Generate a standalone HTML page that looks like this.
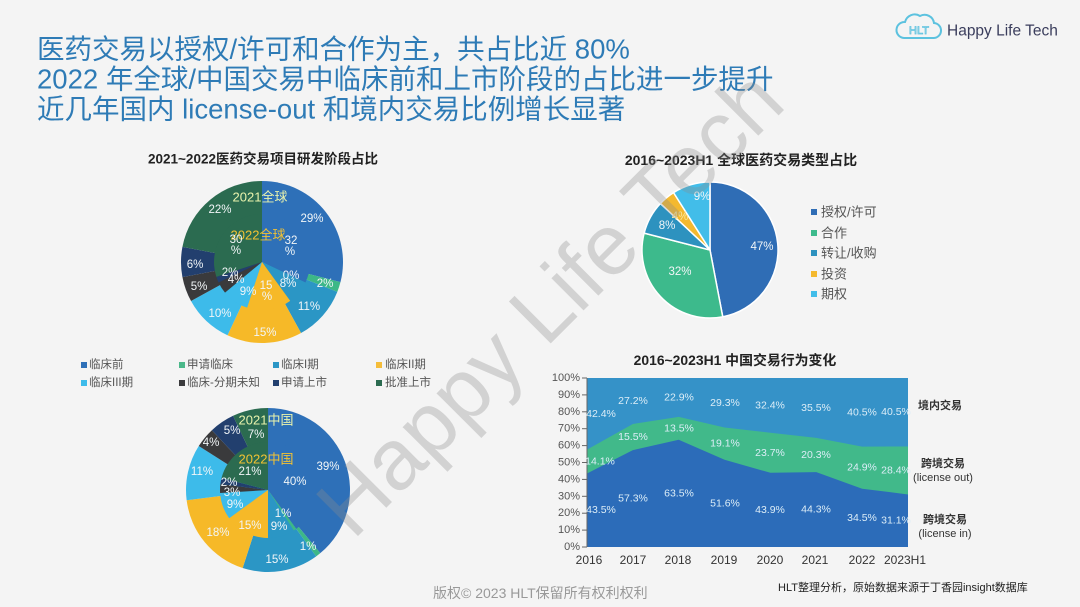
<!DOCTYPE html>
<html>
<head>
<meta charset="utf-8">
<style>
html,body{margin:0;padding:0;background:#f4f4f4;}
svg{display:block;}
</style>
</head>
<body>
<svg width="1080" height="607" viewBox="0 0 1080 607" xmlns="http://www.w3.org/2000/svg" font-family='"Liberation Sans","Noto Sans CJK SC",sans-serif'>
<rect width="1080" height="607" fill="#f4f4f4"/>

<!-- Title -->
<g fill="#2e7bb6" font-size="27.5">
<text x="37" y="49" dominant-baseline="central">医药交易以授权/许可和合作为主，共占比近 80%</text>
<text x="37" y="79" dominant-baseline="central">2022 年全球/中国交易中临床前和上市阶段的占比进一步提升</text>
<text x="37" y="109" dominant-baseline="central">近几年国内 license-out 和境内交易比例增长显著</text>
</g>

<!-- Logo -->
<g fill="none" stroke="#5cc2df" stroke-width="2">
<path d="M904,38 H933 A7.5,7.5 0 0 0 934,23 A9.5,9.5 0 0 0 920,16 A10,10 0 0 0 905,22 A8,8 0 0 0 904,38 Z"/>
</g>
<text x="919" y="31" text-anchor="middle" dominant-baseline="central" font-size="11" fill="none" stroke="#5cc2df" stroke-width="0.8">HLT</text>
<text x="947" y="31" dominant-baseline="central" font-size="15.5" fill="#3a3d5c">Happy Life Tech</text>

<!-- Chart titles -->
<g font-weight="bold" fill="#222">
<text x="263" y="159" text-anchor="middle" dominant-baseline="central" font-size="13.5">2021~2022医药交易项目研发阶段占比</text>
<text x="741" y="160" text-anchor="middle" dominant-baseline="central" font-size="14">2016~2023H1 全球医药交易类型占比</text>
<text x="735" y="360" text-anchor="middle" dominant-baseline="central" font-size="13.9">2016~2023H1 中国交易行为变化</text>
</g>

<!-- Pie 1 (global) outer 2021 -->
<g>
<path d="M262,262 L262,181 A81,81 0 0 1 340.46,282.14 Z" fill="#2e70b8"/>
<path d="M262,262 L340.46,282.14 A81,81 0 0 1 337.31,291.82 Z" fill="#3db887"/>
<path d="M262,262 L337.31,291.82 A81,81 0 0 1 301.02,332.98 Z" fill="#2b96c5"/>
<path d="M262,262 L301.02,332.98 A81,81 0 0 1 227.51,335.29 Z" fill="#f6b928"/>
<path d="M262,262 L227.51,335.29 A81,81 0 0 1 191.02,301.02 Z" fill="#3dbbea"/>
<path d="M262,262 L191.02,301.02 A81,81 0 0 1 182.43,277.18 Z" fill="#3a3a3c"/>
<path d="M262,262 L182.43,277.18 A81,81 0 0 1 182.43,246.82 Z" fill="#223f6e"/>
<path d="M262,262 L182.43,246.82 A81,81 0 0 1 262,181 Z" fill="#2b6b50"/>
<!-- inner 2022 -->
<path d="M262,262 L262,214 A48,48 0 0 1 305.43,282.44 Z" fill="#2e70b8"/>
<path d="M262,262 L305.43,282.44 A48,48 0 0 1 290.21,300.83 Z" fill="#2b96c5"/>
<path d="M262,262 L290.21,300.83 A48,48 0 0 1 247.17,307.65 Z" fill="#f6b928"/>
<path d="M262,262 L247.17,307.65 A48,48 0 0 1 225.02,292.60 Z" fill="#3dbbea"/>
<path d="M262,262 L225.02,292.60 A48,48 0 0 1 218.57,282.44 Z" fill="#3a3a3c"/>
<path d="M262,262 L218.57,282.44 A48,48 0 0 1 216.35,276.83 Z" fill="#223f6e"/>
<path d="M262,262 L216.35,276.83 A48,48 0 0 1 262,214 Z" fill="#2b6b50"/>
</g>
<g font-size="11.5" fill="#f2f6f8" text-anchor="middle" dominant-baseline="central">
<text x="260" y="197" font-size="13" fill="#e9f3ad">2021全球</text>
<text x="258" y="235" font-size="13" fill="#f2c233">2022全球</text>
<text x="220" y="210">22%</text>
<text x="312" y="219">29%</text>
<text x="236" y="240">30</text>
<text x="236" y="251">%</text>
<text x="291" y="241">32</text>
<text x="290" y="252">%</text>
<text x="195" y="265">6%</text>
<text x="230" y="273">2%</text>
<text x="236" y="280">4%</text>
<text x="199" y="287">5%</text>
<text x="291" y="276">0%</text>
<text x="288" y="284">8%</text>
<text x="325" y="284">2%</text>
<text x="266" y="286">15</text>
<text x="267" y="297">%</text>
<text x="248" y="292">9%</text>
<text x="309" y="307">11%</text>
<text x="220" y="314">10%</text>
<text x="265" y="333">15%</text>
</g>

<!-- Legend for pies -->
<g font-size="11.5" fill="#555" dominant-baseline="central">
<rect x="81" y="362" width="6" height="6" fill="#2e70b8"/><text x="89" y="365">临床前</text>
<rect x="179" y="362" width="6" height="6" fill="#4bb88a"/><text x="187" y="365">申请临床</text>
<rect x="273" y="362" width="6" height="6" fill="#2b96c5"/><text x="281" y="365">临床I期</text>
<rect x="376" y="362" width="6" height="6" fill="#f5bd3a"/><text x="385" y="365">临床II期</text>
<rect x="81" y="380" width="6" height="6" fill="#3dbbea"/><text x="89" y="383">临床III期</text>
<rect x="179" y="380" width="6" height="6" fill="#3a3a3c"/><text x="187" y="383">临床-分期未知</text>
<rect x="273" y="380" width="6" height="6" fill="#223f6e"/><text x="281" y="383">申请上市</text>
<rect x="376" y="380" width="6" height="6" fill="#2b6b50"/><text x="385" y="383">批准上市</text>
</g>

<!-- Pie 2 (China) outer 2021 -->
<g>
<path d="M268,490 L268,408 A82,82 0 0 1 320.27,553.18 Z" fill="#2e70b8"/>
<path d="M268,490 L320.27,553.18 A82,82 0 0 1 316.20,556.34 Z" fill="#3db887"/>
<path d="M268,490 L316.20,556.34 A82,82 0 0 1 242.66,567.99 Z" fill="#2b96c5"/>
<path d="M268,490 L242.66,567.99 A82,82 0 0 1 186.65,500.28 Z" fill="#f6b928"/>
<path d="M268,490 L186.65,500.28 A82,82 0 0 1 198.76,446.06 Z" fill="#3dbbea"/>
<path d="M268,490 L198.76,446.06 A82,82 0 0 1 211.87,430.22 Z" fill="#3a3a3c"/>
<path d="M268,490 L211.87,430.22 A82,82 0 0 1 233.09,415.80 Z" fill="#223f6e"/>
<path d="M268,490 L233.09,415.80 A82,82 0 0 1 268,408 Z" fill="#2b6b50"/>
<!-- inner 2022 -->
<path d="M268,490 L268,442 A48,48 0 0 1 296.21,528.83 Z" fill="#2e70b8"/>
<path d="M268,490 L296.21,528.83 A48,48 0 0 1 293.72,530.53 Z" fill="#3db887"/>
<path d="M268,490 L293.72,530.53 A48,48 0 0 1 268,538 Z" fill="#2b96c5"/>
<path d="M268,490 L268,538 A48,48 0 0 1 229.17,518.21 Z" fill="#f6b928"/>
<path d="M268,490 L229.17,518.21 A48,48 0 0 1 220.09,493.01 Z" fill="#3dbbea"/>
<path d="M268,490 L220.09,493.01 A48,48 0 0 1 220.38,483.98 Z" fill="#3a3a3c"/>
<path d="M268,490 L220.38,483.98 A48,48 0 0 1 221.51,478.06 Z" fill="#223f6e"/>
<path d="M268,490 L221.51,478.06 A48,48 0 0 1 268,442 Z" fill="#2b6b50"/>
</g>
<g font-size="11.5" fill="#f2f6f8" text-anchor="middle" dominant-baseline="central">
<text x="266" y="420" font-size="13" fill="#e9f3ad">2021中国</text>
<text x="266" y="459" font-size="13" fill="#f2c233">2022中国</text>
<text x="232" y="431">5%</text>
<text x="256" y="435">7%</text>
<text x="211" y="443">4%</text>
<text x="202" y="472">11%</text>
<text x="250" y="472">21%</text>
<text x="328" y="467">39%</text>
<text x="295" y="482">40%</text>
<text x="229" y="483">2%</text>
<text x="232" y="493">3%</text>
<text x="235" y="505">9%</text>
<text x="283" y="514">1%</text>
<text x="279" y="527">9%</text>
<text x="250" y="526">15%</text>
<text x="218" y="533">18%</text>
<text x="308" y="547">1%</text>
<text x="277" y="560">15%</text>
</g>

<!-- Pie 3 -->
<g stroke="#fff" stroke-width="1.5" stroke-linejoin="round">
<path d="M710,250 L710,182 A68,68 0 0 1 722.74,316.80 Z" fill="#2f6db5"/>
<path d="M710,250 L722.74,316.80 A68,68 0 0 1 644.14,233.09 Z" fill="#3dba8c"/>
<path d="M710,250 L644.14,233.09 A68,68 0 0 1 660.43,203.45 Z" fill="#2d92bf"/>
<path d="M710,250 L660.43,203.45 A68,68 0 0 1 673.56,192.59 Z" fill="#f4b92f"/>
<path d="M710,250 L673.56,192.59 A68,68 0 0 1 710,182 Z" fill="#42bde9"/>
</g>
<g font-size="11.5" fill="#f2f6f8" text-anchor="middle" dominant-baseline="central">
<text x="762" y="247">47%</text>
<text x="680" y="272">32%</text>
<text x="667" y="226">8%</text>
<text x="680" y="217" fill="#f8e6a0">4%</text>
<text x="702" y="197">9%</text>
</g>
<g font-size="13" fill="#555" dominant-baseline="central">
<rect x="811" y="209" width="6" height="6" fill="#2f6db5"/><text x="821" y="212">授权/许可</text>
<rect x="811" y="230" width="6" height="6" fill="#3dba8c"/><text x="821" y="233">合作</text>
<rect x="811" y="250" width="6" height="6" fill="#2d92bf"/><text x="821" y="253">转让/收购</text>
<rect x="811" y="271" width="6" height="6" fill="#f4b92f"/><text x="821" y="274">投资</text>
<rect x="811" y="291" width="6" height="6" fill="#42bde9"/><text x="821" y="294">期权</text>
</g>

<!-- Area chart -->
<rect x="587" y="378" width="321" height="169" fill="#3592c8"/>
<polygon points="587,547 587,449.66 632.86,423.97 678.71,416.87 724.57,427.52 770.43,432.76 816.29,437.83 862.14,446.61 908,446.44 908,547" fill="#41b98a"/>
<polygon points="587,547 587,473.49 632.86,450.16 678.71,439.69 724.57,459.80 770.43,472.81 816.29,472.13 862.14,488.70 908,494.44 908,547" fill="#2c6cb9"/>
<g stroke="#666" stroke-width="1">
<line x1="587" y1="378" x2="587" y2="547"/>
<line x1="582" y1="378" x2="587" y2="378"/>
<line x1="582" y1="394.9" x2="587" y2="394.9"/>
<line x1="582" y1="411.8" x2="587" y2="411.8"/>
<line x1="582" y1="428.7" x2="587" y2="428.7"/>
<line x1="582" y1="445.6" x2="587" y2="445.6"/>
<line x1="582" y1="462.5" x2="587" y2="462.5"/>
<line x1="582" y1="479.4" x2="587" y2="479.4"/>
<line x1="582" y1="496.3" x2="587" y2="496.3"/>
<line x1="582" y1="513.2" x2="587" y2="513.2"/>
<line x1="582" y1="530.1" x2="587" y2="530.1"/>
<line x1="582" y1="547" x2="587" y2="547"/>
</g>
<g font-size="11" fill="#555" text-anchor="end" dominant-baseline="central">
<text x="580" y="378">100%</text>
<text x="580" y="394.9">90%</text>
<text x="580" y="411.8">80%</text>
<text x="580" y="428.7">70%</text>
<text x="580" y="445.6">60%</text>
<text x="580" y="462.5">50%</text>
<text x="580" y="479.4">40%</text>
<text x="580" y="496.3">30%</text>
<text x="580" y="513.2">20%</text>
<text x="580" y="530.1">10%</text>
<text x="580" y="547">0%</text>
</g>
<g font-size="12" fill="#333" text-anchor="middle" dominant-baseline="central">
<text x="589" y="560">2016</text>
<text x="633" y="560">2017</text>
<text x="678" y="560">2018</text>
<text x="724" y="560">2019</text>
<text x="770" y="560">2020</text>
<text x="815" y="560">2021</text>
<text x="862" y="560">2022</text>
<text x="905" y="560">2023H1</text>
</g>
<g font-size="10.5" fill="#dcedf7" text-anchor="middle" dominant-baseline="central">
<text x="601" y="413.8">42.4%</text>
<text x="633" y="401">27.2%</text>
<text x="679" y="397.5">22.9%</text>
<text x="725" y="402.8">29.3%</text>
<text x="770" y="405.4">32.4%</text>
<text x="816" y="407.8">35.5%</text>
<text x="862" y="412.4">40.5%</text>
<text x="896" y="412.2">40.5%</text>
<text x="600" y="461.6">14.1%</text>
<text x="633" y="437.1">15.5%</text>
<text x="679" y="428.3">13.5%</text>
<text x="725" y="443.7">19.1%</text>
<text x="770" y="452.8">23.7%</text>
<text x="816" y="455">20.3%</text>
<text x="862" y="467.7">24.9%</text>
<text x="896" y="470.4">28.4%</text>
<text x="601" y="510.2">43.5%</text>
<text x="633" y="498.6">57.3%</text>
<text x="679" y="493.3">63.5%</text>
<text x="725" y="503.4">51.6%</text>
<text x="770" y="509.9">43.9%</text>
<text x="816" y="509.6">44.3%</text>
<text x="862" y="517.8">34.5%</text>
<text x="896" y="520.7">31.1%</text>
</g>
<g font-size="11" fill="#333" text-anchor="middle" dominant-baseline="central">
<text x="940" y="406" font-weight="bold">境内交易</text>
<text x="943" y="464" font-weight="bold">跨境交易</text>
<text x="943" y="478">(license out)</text>
<text x="945" y="520" font-weight="bold">跨境交易</text>
<text x="945" y="534">(license in)</text>
</g>

<!-- Footer -->
<text x="433" y="593" dominant-baseline="central" font-size="14" fill="#999">版权© 2023 HLT保留所有权利权利</text>
<text x="778" y="588" dominant-baseline="central" font-size="11" fill="#222">HLT整理分析，原始数据来源于丁香园insight数据库</text>

<!-- Watermark -->
<text x="550" y="303" transform="rotate(-45 550 303)" text-anchor="middle" dominant-baseline="central" font-size="86" fill="rgba(140,140,140,0.32)">Happy Life Tech</text>
</svg>
</body>
</html>
